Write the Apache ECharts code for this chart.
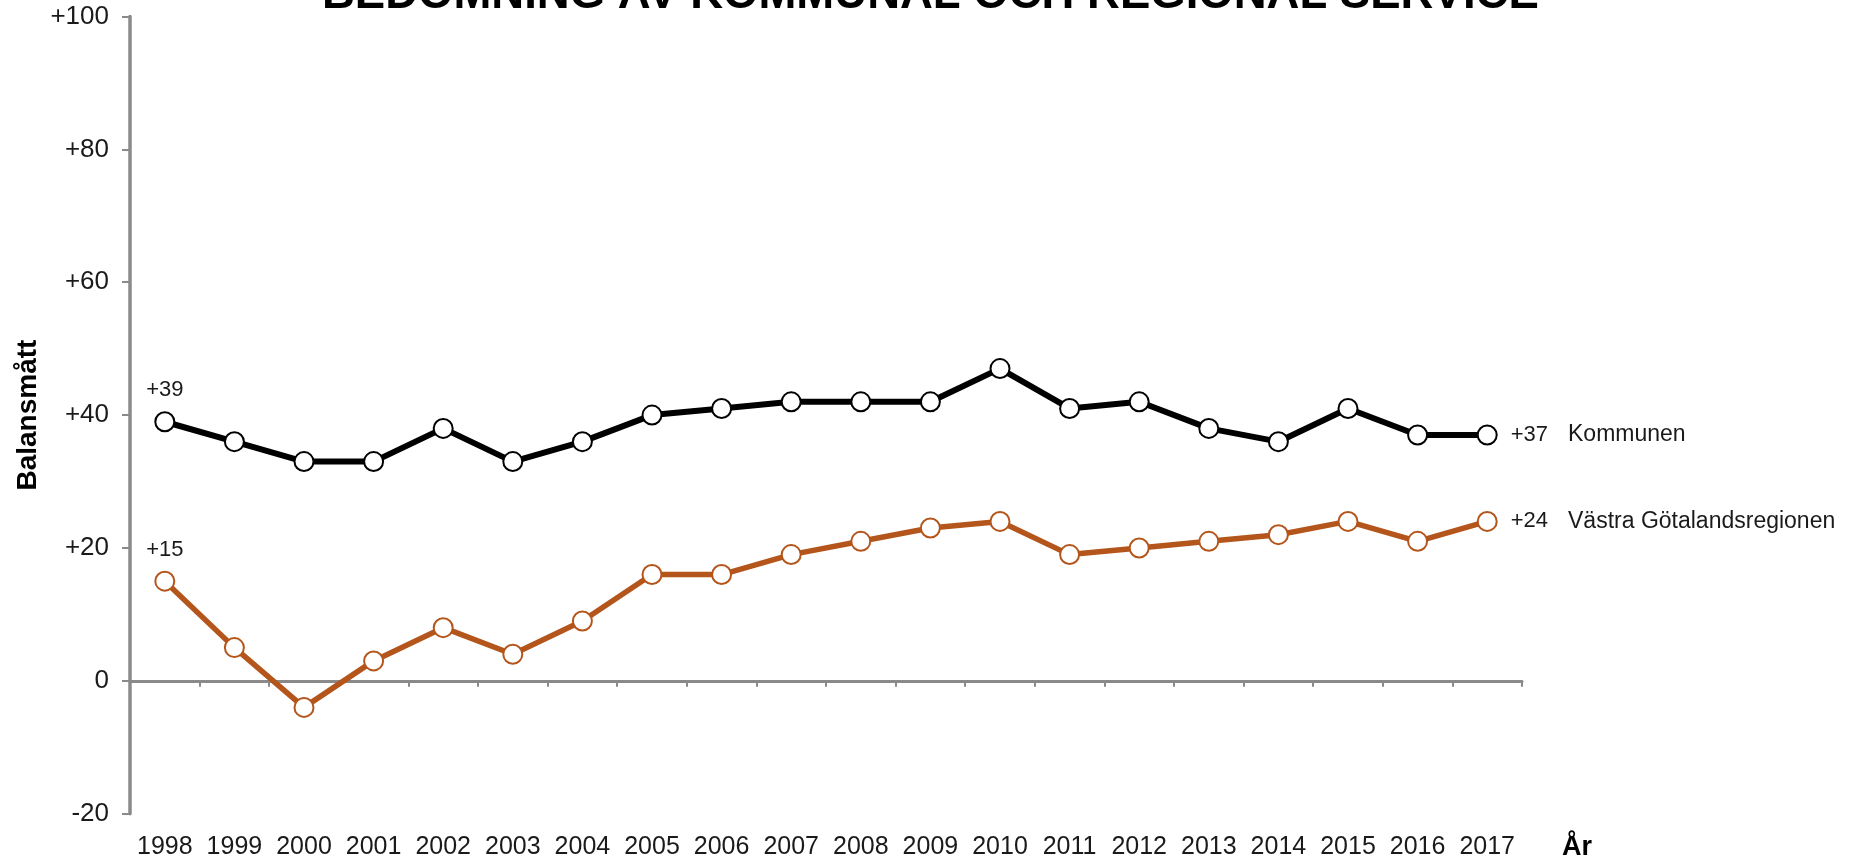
<!DOCTYPE html>
<html>
<head>
<meta charset="utf-8">
<script src="https://cdn.jsdelivr.net/npm/echarts@6/dist/echarts.min.js"></script>
<style>
html,body{margin:0;padding:0;background:#fff;}
#chart{width:1849px;height:855px;}
</style>
</head>
<body>
<div id="chart"></div>
<script>
const years = ['1998','1999','2000','2001','2002','2003','2004','2005','2006','2007','2008','2009','2010','2011','2012','2013','2014','2015','2016','2017'];
const kommunen = [39,36,33,33,38,33,36,40,41,42,42,42,47,41,42,38,36,41,37,37];
const vgr = [15,5,-4,3,8,4,9,16,16,19,21,23,24,19,20,21,22,24,21,24];
const seriesNames = ['Kommunen','Västra Götalandsregionen'];
const yTicks = [-20,0,20,40,60,80,100];
const titleText = 'BEDÖMNING AV KOMMUNAL OCH REGIONAL SERVICE';

const FONT = '"Liberation Sans", Arial, sans-serif';
const TXT = '#1a1a1a';
const GREY = '#8a8a8a';

function fmt(v){ return v > 0 ? '+' + v : String(v); }

function buildData(vals, name){
  return vals.map((v, i) => {
    if (i === 0) {
      return {value: v, label: {show: true, position: 'top', distance: 10, formatter: fmt(v),
        fontSize: 22, color: TXT, fontFamily: FONT}};
    }
    if (i === vals.length - 1) {
      return {value: v, label: {show: true, position: 'right', distance: 13,
        formatter: '{v|' + fmt(v) + '}{n|' + name + '}',
        rich: {
          v: {fontSize: 22, color: TXT, fontFamily: FONT},
          n: {fontSize: 23, color: TXT, fontFamily: FONT, padding: [0,0,0,20]}
        }}};
    }
    return v;
  });
}

const chart = echarts.init(document.getElementById('chart'));
chart.setOption({
  animation: false,
  backgroundColor: '#fff',
  title: {
    text: titleText,
    left: 317,
    top: -33,
    textStyle: {fontSize: 45.5, fontWeight: 'bold', color: '#000', fontFamily: FONT}
  },
  grid: {left: 130, right: 327, top: 16.5, bottom: 41.3, containLabel: false, outerBoundsMode: 'none'},
  xAxis: [
    {
      type: 'category',
      data: years,
      boundaryGap: true,
      position: 'bottom',
      axisLine: {show: false, onZero: false},
      axisTick: {show: false},
      axisLabel: {interval: 0, fontSize: 25, color: TXT, fontFamily: FONT, margin: 21},
      name: 'År',
      nameLocation: 'end',
      nameGap: 40,
      nameTextStyle: {fontSize: 27, fontWeight: 'bold', color: '#000', fontFamily: FONT,
        verticalAlign: 'top', align: 'left', padding: [20,0,0,0]},
      splitLine: {show: false}
    },
    {
      type: 'category',
      data: years,
      boundaryGap: true,
      position: 'top',
      axisLine: {show: true, onZero: true, lineStyle: {color: GREY, width: 3}},
      axisTick: {show: true, inside: true, length: 6, lineStyle: {color: GREY, width: 2}},
      axisLabel: {show: false},
      splitLine: {show: false}
    }
  ],
  yAxis: {
    type: 'value',
    min: yTicks[0],
    max: yTicks[yTicks.length - 1],
    interval: 20,
    axisLine: {show: true, lineStyle: {color: GREY, width: 3.5}},
    axisTick: {show: true, length: 8, lineStyle: {color: GREY, width: 2}},
    axisLabel: {fontSize: 26, color: TXT, fontFamily: FONT, margin: 21, formatter: fmt},
    splitLine: {show: false},
    name: 'Balansmått',
    nameLocation: 'middle',
    nameGap: 88,
    nameMoveOverlap: false,
    nameRotate: 90,
    nameTextStyle: {fontSize: 28, fontWeight: 'bold', color: '#000', fontFamily: FONT}
  },
  series: [
    {
      name: seriesNames[0],
      type: 'line',
      xAxisIndex: 0,
      data: buildData(kommunen, seriesNames[0]),
      symbol: 'circle',
      symbolSize: 19,
      lineStyle: {color: '#000', width: 6},
      itemStyle: {color: '#fff', borderColor: '#000', borderWidth: 2},
      z: 3
    },
    {
      name: seriesNames[1],
      type: 'line',
      xAxisIndex: 0,
      data: buildData(vgr, seriesNames[1]),
      symbol: 'circle',
      symbolSize: 19,
      lineStyle: {color: '#B4561B', width: 5.5},
      itemStyle: {color: '#fff', borderColor: '#B4561B', borderWidth: 2},
      z: 3
    }
  ]
});
</script>
</body>
</html>
